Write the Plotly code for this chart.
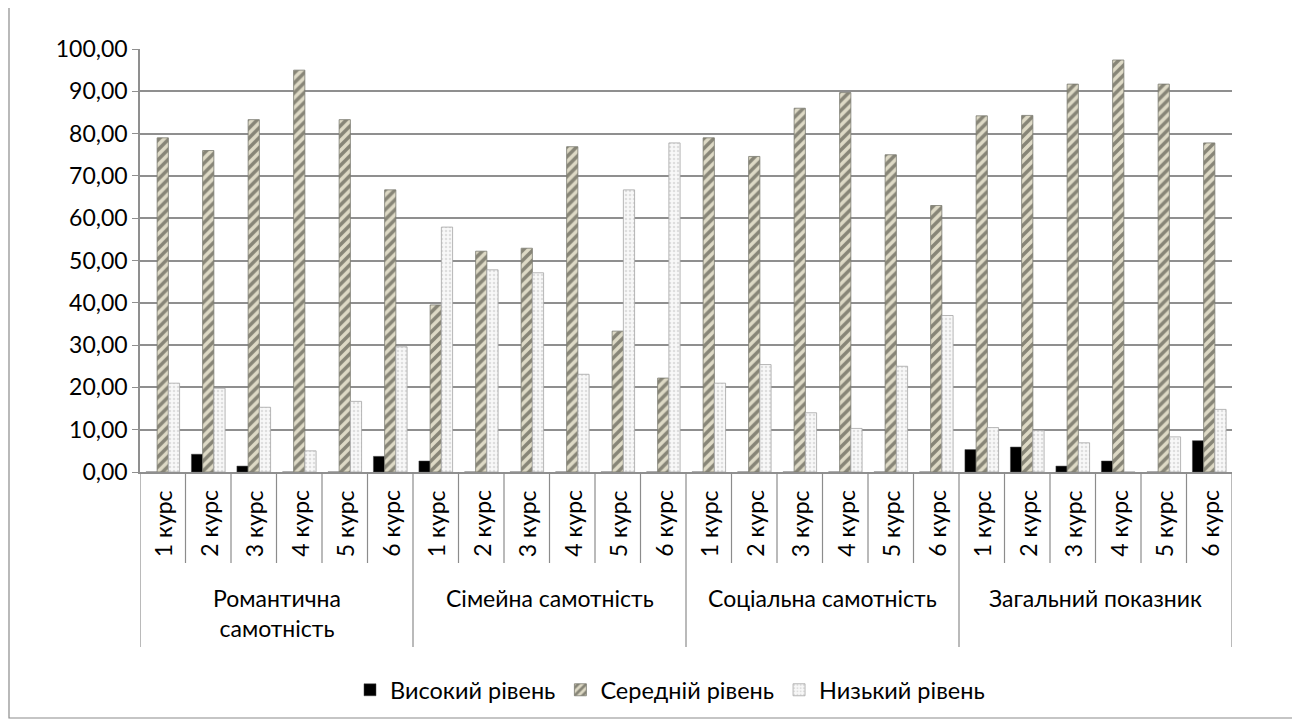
import plotly.graph_objects as go

groups = ["Романтична<br>самотність", "Сімейна самотність", "Соціальна самотність", "Загальний показник"]
courses = ["1 курс", "2 курс", "3 курс", "4 курс", "5 курс", "6 курс"]
series_names = ["Високий рівень", "Середній рівень", "Низький рівень"]

high = [0.0, 4.2, 1.4, 0.0, 0.0, 3.7,
        2.6, 0.0, 0.0, 0.0, 0.0, 0.0,
        0.0, 0.0, 0.0, 0.0, 0.0, 0.0,
        5.3, 5.9, 1.4, 2.6, 0.0, 7.4]
mid = [79.0, 76.0, 83.3, 95.0, 83.3, 66.7,
       39.5, 52.2, 52.9, 76.9, 33.3, 22.2,
       79.0, 74.6, 86.0, 89.7, 75.0, 63.0,
       84.2, 84.3, 91.7, 97.4, 91.7, 77.8]
low = [21.0, 19.8, 15.3, 5.0, 16.7, 29.6,
       57.9, 47.8, 47.1, 23.1, 66.7, 77.8,
       21.0, 25.4, 14.0, 10.3, 25.0, 37.0,
       10.5, 9.8, 6.9, 0.0, 8.3, 14.8]
y_ticks = [0, 10, 20, 30, 40, 50, 60, 70, 80, 90, 100]

n = len(groups) * len(courses)
xs = list(range(n))
FONT = "Lato, 'Noto Sans', sans-serif"
GRID = "#8f8f8f"

OFF = 8  # page body margin
W, H = 1300 - OFF, 725 - OFF
L = 140 - OFF
T = 49 - OFF
R = W - (1232 - OFF)
B = H - (472 - OFF)
pw, ph = W - L - R, H - T - B

def px_to_paper_x(px):
    return (px - OFF - L) / pw

def px_to_paper_y(py):
    return (H - B - (py - OFF)) / ph

fig = go.Figure()
fig.add_trace(go.Bar(x=xs, y=high, name=series_names[0],
                     marker=dict(color="#000000", line=dict(color="#444444", width=0.5))))
fig.add_trace(go.Bar(x=xs, y=mid, name=series_names[1],
                     marker=dict(color="#d9d5c1", line=dict(color="#7a7a70", width=0.8),
                                 pattern=dict(shape="/", fgcolor="#2f2f28", bgcolor="#dedac6",
                                              size=7, solidity=0.5))))
fig.add_trace(go.Bar(x=xs, y=low, name=series_names[2],
                     marker=dict(color="#f2f2f2", line=dict(color="#a6a6a6", width=0.8),
                                 pattern=dict(shape=".", fgcolor="#c4c4c4", bgcolor="#f8f8f8",
                                              size=4, solidity=0.3))))

shapes = []
annotations = []
shapes.append(dict(type="rect", xref="paper", yref="paper",
                   x0=px_to_paper_x(9), x1=px_to_paper_x(1294),
                   y0=px_to_paper_y(718), y1=px_to_paper_y(7),
                   line=dict(color="#8c8c8c", width=1.2), fillcolor="rgba(0,0,0,0)", layer="below"))
y_course_line = px_to_paper_y(563)
y_group_line = px_to_paper_y(647)
for i in range(n + 1):
    xpos = i - 0.5
    is_group = (i % len(courses) == 0)
    shapes.append(dict(type="line", xref="x", yref="paper", x0=xpos, x1=xpos,
                       y0=y_group_line if is_group else y_course_line, y1=0,
                       line=dict(color="#8c8c8c", width=1.2)))
for i in xs:
    annotations.append(dict(x=i, y=px_to_paper_y(488), xref="x", yref="paper",
                            text=courses[i % len(courses)], showarrow=False, textangle=-90,
                            xanchor="center", yanchor="top",
                            font=dict(family=FONT, size=23, color="#000000")))
for g, name in enumerate(groups):
    center = g * len(courses) + (len(courses) - 1) / 2
    annotations.append(dict(x=center, y=px_to_paper_y(582), xref="x", yref="paper",
                            text=name, showarrow=False, xanchor="center", yanchor="top",
                            font=dict(family=FONT, size=23, color="#000000")))

fig.update_layout(
    width=W, height=H,
    margin=dict(l=L, r=R, t=T, b=B),
    paper_bgcolor="white", plot_bgcolor="white",
    separators=", ",
    barmode="group", bargap=0.26, bargroupgap=0.0,
    font=dict(family=FONT, size=23, color="#000000"),
    xaxis=dict(range=[-0.5, n - 0.5], showticklabels=False, showgrid=False,
               zeroline=False, showline=True, linecolor=GRID, linewidth=1.5, ticks=""),
    yaxis=dict(range=[0, 100], tickvals=y_ticks, tickformat=".2f",
               showgrid=True, gridcolor=GRID, gridwidth=1.5, zeroline=False,
               showline=True, linecolor=GRID, linewidth=1.5,
               ticks="outside", ticklen=6, tickcolor=GRID,
               tickfont=dict(family=FONT, size=23, color="#000000")),
    legend=dict(orientation="h", x=px_to_paper_x(670), xanchor="center",
                y=px_to_paper_y(690), yanchor="middle",
                font=dict(family=FONT, size=23.5, color="#000000"),
                itemwidth=30, bgcolor="rgba(0,0,0,0)"),
    shapes=shapes, annotations=annotations,
)

fig.write_html("out.html")
